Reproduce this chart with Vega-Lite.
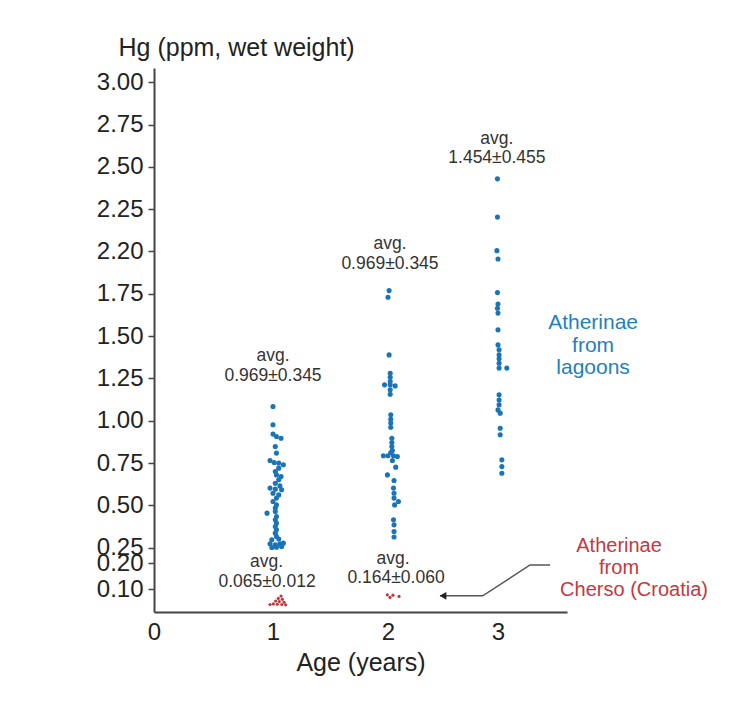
{
  "$schema": "https://vega.github.io/schema/vega-lite/v6.json",
  "width": 413,
  "height": 544,
  "autosize": {"type": "none"},
  "padding": {"left": 154, "top": 68, "right": 184, "bottom": 95},
  "background": "white",
  "config": {"view": {"stroke": null}, "font": "Liberation Sans"},
  "datasets": {
    "fish": [
      {"site": "lagoons", "age": 1.00, "hg": 1.084},
      {"site": "lagoons", "age": 1.00, "hg": 0.976},
      {"site": "lagoons", "age": 1.00, "hg": 0.921},
      {"site": "lagoons", "age": 1.03, "hg": 0.907},
      {"site": "lagoons", "age": 1.07, "hg": 0.897},
      {"site": "lagoons", "age": 1.02, "hg": 0.848},
      {"site": "lagoons", "age": 1.03, "hg": 0.809},
      {"site": "lagoons", "age": 0.975, "hg": 0.765},
      {"site": "lagoons", "age": 1.01, "hg": 0.753},
      {"site": "lagoons", "age": 1.05, "hg": 0.750},
      {"site": "lagoons", "age": 1.09, "hg": 0.740},
      {"site": "lagoons", "age": 1.05, "hg": 0.720},
      {"site": "lagoons", "age": 1.02, "hg": 0.700},
      {"site": "lagoons", "age": 1.03, "hg": 0.680},
      {"site": "lagoons", "age": 1.07, "hg": 0.670},
      {"site": "lagoons", "age": 1.05, "hg": 0.651},
      {"site": "lagoons", "age": 1.02, "hg": 0.631},
      {"site": "lagoons", "age": 1.06, "hg": 0.615},
      {"site": "lagoons", "age": 0.975, "hg": 0.602},
      {"site": "lagoons", "age": 1.02, "hg": 0.596},
      {"site": "lagoons", "age": 1.075, "hg": 0.592},
      {"site": "lagoons", "age": 1.00, "hg": 0.572},
      {"site": "lagoons", "age": 1.05, "hg": 0.562},
      {"site": "lagoons", "age": 1.03, "hg": 0.543},
      {"site": "lagoons", "age": 1.00, "hg": 0.523},
      {"site": "lagoons", "age": 1.03, "hg": 0.503},
      {"site": "lagoons", "age": 1.02, "hg": 0.484},
      {"site": "lagoons", "age": 0.95, "hg": 0.454},
      {"site": "lagoons", "age": 1.02, "hg": 0.464},
      {"site": "lagoons", "age": 1.03, "hg": 0.434},
      {"site": "lagoons", "age": 1.02, "hg": 0.415},
      {"site": "lagoons", "age": 1.03, "hg": 0.395},
      {"site": "lagoons", "age": 1.02, "hg": 0.375},
      {"site": "lagoons", "age": 1.03, "hg": 0.356},
      {"site": "lagoons", "age": 1.02, "hg": 0.336},
      {"site": "lagoons", "age": 1.03, "hg": 0.316},
      {"site": "lagoons", "age": 0.99, "hg": 0.297},
      {"site": "lagoons", "age": 1.05, "hg": 0.301},
      {"site": "lagoons", "age": 0.975, "hg": 0.273},
      {"site": "lagoons", "age": 1.02, "hg": 0.267},
      {"site": "lagoons", "age": 1.06, "hg": 0.273},
      {"site": "lagoons", "age": 1.09, "hg": 0.277},
      {"site": "lagoons", "age": 0.99, "hg": 0.251},
      {"site": "lagoons", "age": 1.03, "hg": 0.253},
      {"site": "lagoons", "age": 1.075, "hg": 0.257},

      {"site": "lagoons", "age": 2.01, "hg": 1.769},
      {"site": "lagoons", "age": 2.00, "hg": 1.730},
      {"site": "lagoons", "age": 2.01, "hg": 1.389},
      {"site": "lagoons", "age": 2.02, "hg": 1.281},
      {"site": "lagoons", "age": 2.02, "hg": 1.257},
      {"site": "lagoons", "age": 2.02, "hg": 1.232},
      {"site": "lagoons", "age": 1.97, "hg": 1.212},
      {"site": "lagoons", "age": 2.02, "hg": 1.212},
      {"site": "lagoons", "age": 2.065, "hg": 1.206},
      {"site": "lagoons", "age": 2.02, "hg": 1.183},
      {"site": "lagoons", "age": 2.02, "hg": 1.157},
      {"site": "lagoons", "age": 2.025, "hg": 1.035},
      {"site": "lagoons", "age": 2.025, "hg": 1.009},
      {"site": "lagoons", "age": 2.025, "hg": 0.986},
      {"site": "lagoons", "age": 2.025, "hg": 0.962},
      {"site": "lagoons", "age": 2.035, "hg": 0.897},
      {"site": "lagoons", "age": 2.035, "hg": 0.871},
      {"site": "lagoons", "age": 2.035, "hg": 0.848},
      {"site": "lagoons", "age": 2.04, "hg": 0.824},
      {"site": "lagoons", "age": 2.025, "hg": 0.812},
      {"site": "lagoons", "age": 1.96, "hg": 0.793},
      {"site": "lagoons", "age": 2.00, "hg": 0.793},
      {"site": "lagoons", "age": 2.05, "hg": 0.793},
      {"site": "lagoons", "age": 2.085, "hg": 0.789},
      {"site": "lagoons", "age": 2.04, "hg": 0.765},
      {"site": "lagoons", "age": 2.07, "hg": 0.726},
      {"site": "lagoons", "age": 1.995, "hg": 0.680},
      {"site": "lagoons", "age": 2.055, "hg": 0.647},
      {"site": "lagoons", "age": 2.05, "hg": 0.602},
      {"site": "lagoons", "age": 2.055, "hg": 0.572},
      {"site": "lagoons", "age": 2.055, "hg": 0.543},
      {"site": "lagoons", "age": 2.095, "hg": 0.523},
      {"site": "lagoons", "age": 2.06, "hg": 0.503},
      {"site": "lagoons", "age": 2.05, "hg": 0.415},
      {"site": "lagoons", "age": 2.055, "hg": 0.385},
      {"site": "lagoons", "age": 2.055, "hg": 0.346},
      {"site": "lagoons", "age": 2.055, "hg": 0.313},

      {"site": "lagoons", "age": 2.995, "hg": 2.429},
      {"site": "lagoons", "age": 2.995, "hg": 2.203},
      {"site": "lagoons", "age": 2.99, "hg": 2.005},
      {"site": "lagoons", "age": 3.00, "hg": 1.956},
      {"site": "lagoons", "age": 2.995, "hg": 1.757},
      {"site": "lagoons", "age": 3.00, "hg": 1.690},
      {"site": "lagoons", "age": 2.995, "hg": 1.665},
      {"site": "lagoons", "age": 3.00, "hg": 1.636},
      {"site": "lagoons", "age": 3.00, "hg": 1.537},
      {"site": "lagoons", "age": 3.00, "hg": 1.448},
      {"site": "lagoons", "age": 3.01, "hg": 1.419},
      {"site": "lagoons", "age": 3.01, "hg": 1.389},
      {"site": "lagoons", "age": 3.01, "hg": 1.366},
      {"site": "lagoons", "age": 3.01, "hg": 1.340},
      {"site": "lagoons", "age": 3.01, "hg": 1.311},
      {"site": "lagoons", "age": 3.08, "hg": 1.311},
      {"site": "lagoons", "age": 3.01, "hg": 1.153},
      {"site": "lagoons", "age": 3.01, "hg": 1.123},
      {"site": "lagoons", "age": 3.01, "hg": 1.094},
      {"site": "lagoons", "age": 3.00, "hg": 1.064},
      {"site": "lagoons", "age": 3.02, "hg": 1.045},
      {"site": "lagoons", "age": 3.02, "hg": 0.956},
      {"site": "lagoons", "age": 3.02, "hg": 0.917},
      {"site": "lagoons", "age": 3.035, "hg": 0.769},
      {"site": "lagoons", "age": 3.035, "hg": 0.729},
      {"site": "lagoons", "age": 3.035, "hg": 0.690},

      {"site": "cherso", "age": 1.07, "hg": 0.079},
      {"site": "cherso", "age": 1.046, "hg": 0.072},
      {"site": "cherso", "age": 1.081, "hg": 0.069},
      {"site": "cherso", "age": 1.023, "hg": 0.064},
      {"site": "cherso", "age": 1.055, "hg": 0.062},
      {"site": "cherso", "age": 1.096, "hg": 0.060},
      {"site": "cherso", "age": 1.003, "hg": 0.055},
      {"site": "cherso", "age": 1.037, "hg": 0.054},
      {"site": "cherso", "age": 1.076, "hg": 0.053},
      {"site": "cherso", "age": 1.11, "hg": 0.052},
      {"site": "cherso", "age": 0.975, "hg": 0.053},
      {"site": "cherso", "age": 1.994, "hg": 0.083},
      {"site": "cherso", "age": 2.018, "hg": 0.075},
      {"site": "cherso", "age": 2.045, "hg": 0.082},
      {"site": "cherso", "age": 2.10, "hg": 0.078}
    ],
    "notes": [
      {"kind": "avg", "age": 1.0, "hg": 1.380, "text": "avg."},
      {"kind": "avg", "age": 1.0, "hg": 1.262, "text": "0.969±0.345"},
      {"kind": "avg", "age": 2.018, "hg": 2.042, "text": "avg."},
      {"kind": "avg", "age": 2.018, "hg": 1.924, "text": "0.969±0.345"},
      {"kind": "avg", "age": 2.99, "hg": 2.665, "text": "avg."},
      {"kind": "avg", "age": 2.99, "hg": 2.553, "text": "1.454±0.455"},
      {"kind": "avg", "age": 0.945, "hg": 0.203, "text": "avg."},
      {"kind": "avg", "age": 0.95, "hg": 0.130, "text": "0.065±0.012"},
      {"kind": "avg", "age": 2.045, "hg": 0.214, "text": "avg."},
      {"kind": "avg", "age": 2.073, "hg": 0.145, "text": "0.164±0.060"},
      {"kind": "lagoons", "age": 3.864, "hg": 1.578, "text": "Atherinae"},
      {"kind": "lagoons", "age": 3.864, "hg": 1.443, "text": "from"},
      {"kind": "lagoons", "age": 3.864, "hg": 1.313, "text": "lagoons"},
      {"kind": "cherso", "age": 4.10, "hg": 0.261, "text": "Atherinae"},
      {"kind": "cherso", "age": 4.10, "hg": 0.182, "text": "from"},
      {"kind": "cherso", "age": 4.236, "hg": 0.098, "text": "Cherso (Croatia)"}
    ],
    "arrow": [
      {"order": 1, "age": 3.473, "hg": 0.1935},
      {"order": 2, "age": 3.291, "hg": 0.1935},
      {"order": 3, "age": 2.861, "hg": 0.080},
      {"order": 4, "age": 2.473, "hg": 0.080}
    ],
    "arrowhead": [
      {"age": 2.50, "hg": 0.080}
    ]
  },
  "encoding": {
    "x": {
      "field": "age",
      "type": "quantitative",
      "scale": {"domain": [0, 1, 2, 3, 3.627], "range": [0, 119, 234, 344, 413], "nice": false, "zero": false},
      "axis": {
        "values": [0, 1, 2, 3],
        "format": "d",
        "ticks": false,
        "grid": false,
        "labelPadding": 8,
        "labelFontSize": 24,
        "labelColor": "#222",
        "labelFlush": false,
        "labelOverlap": false,
        "domainColor": "#444",
        "domainWidth": 2,
        "title": "Age (years)",
        "titleFontSize": 25,
        "titleFontWeight": "normal",
        "titleColor": "#222",
        "titlePadding": 6
      }
    },
    "y": {
      "field": "hg",
      "type": "quantitative",
      "scale": {"domain": [0.03, 0.10, 0.20, 0.25, 3.084], "range": [544, 521.3, 495.3, 479.7, 0], "nice": false, "zero": false},
      "axis": {
        "values": [0.10, 0.20, 0.25, 0.50, 0.75, 1.00, 1.25, 1.50, 1.75, 2.00, 2.25, 2.50, 2.75, 3.00],
        "labelExpr": "datum.value == 2 ? '2.20' : format(datum.value, '.2f')",
        "grid": false,
        "labelFontSize": 24,
        "labelColor": "#222",
        "labelPadding": 5,
        "labelOverlap": false,
        "labelFlush": false,
        "tickSize": 6,
        "tickColor": "#444",
        "tickWidth": 1.5,
        "domainColor": "#444",
        "domainWidth": 2,
        "title": "Hg (ppm, wet weight)",
        "titleAngle": 0,
        "titleAlign": "left",
        "titleBaseline": "middle",
        "titleX": -36,
        "titleY": -21,
        "titleFontSize": 25,
        "titleFontWeight": "normal",
        "titleColor": "#222"
      }
    }
  },
  "layer": [
    {
      "data": {"name": "fish"},
      "transform": [{"filter": "datum.site == 'lagoons'"}],
      "mark": {"type": "circle", "size": 26, "color": "#1a74b8", "opacity": 1}
    },
    {
      "data": {"name": "fish"},
      "transform": [{"filter": "datum.site == 'cherso'"}],
      "mark": {"type": "circle", "size": 10, "color": "#c8323a", "opacity": 1}
    },
    {
      "data": {"name": "arrow"},
      "mark": {"type": "line", "color": "#555555", "strokeWidth": 1.5},
      "encoding": {"order": {"field": "order", "type": "quantitative"}}
    },
    {
      "data": {"name": "arrowhead"},
      "mark": {"type": "point", "shape": "triangle-left", "filled": true, "size": 60, "color": "#222222", "opacity": 1}
    },
    {
      "data": {"name": "notes"},
      "transform": [{"filter": "datum.kind == 'avg'"}],
      "mark": {"type": "text", "fontSize": 17.5, "color": "#333333", "align": "center", "baseline": "middle"},
      "encoding": {"text": {"field": "text"}}
    },
    {
      "data": {"name": "notes"},
      "transform": [{"filter": "datum.kind == 'lagoons'"}],
      "mark": {"type": "text", "fontSize": 21, "color": "#1f7fc0", "align": "center", "baseline": "middle"},
      "encoding": {"text": {"field": "text"}}
    },
    {
      "data": {"name": "notes"},
      "transform": [{"filter": "datum.kind == 'cherso'"}],
      "mark": {"type": "text", "fontSize": 20, "color": "#c8363e", "align": "center", "baseline": "middle"},
      "encoding": {"text": {"field": "text"}}
    }
  ]
}
